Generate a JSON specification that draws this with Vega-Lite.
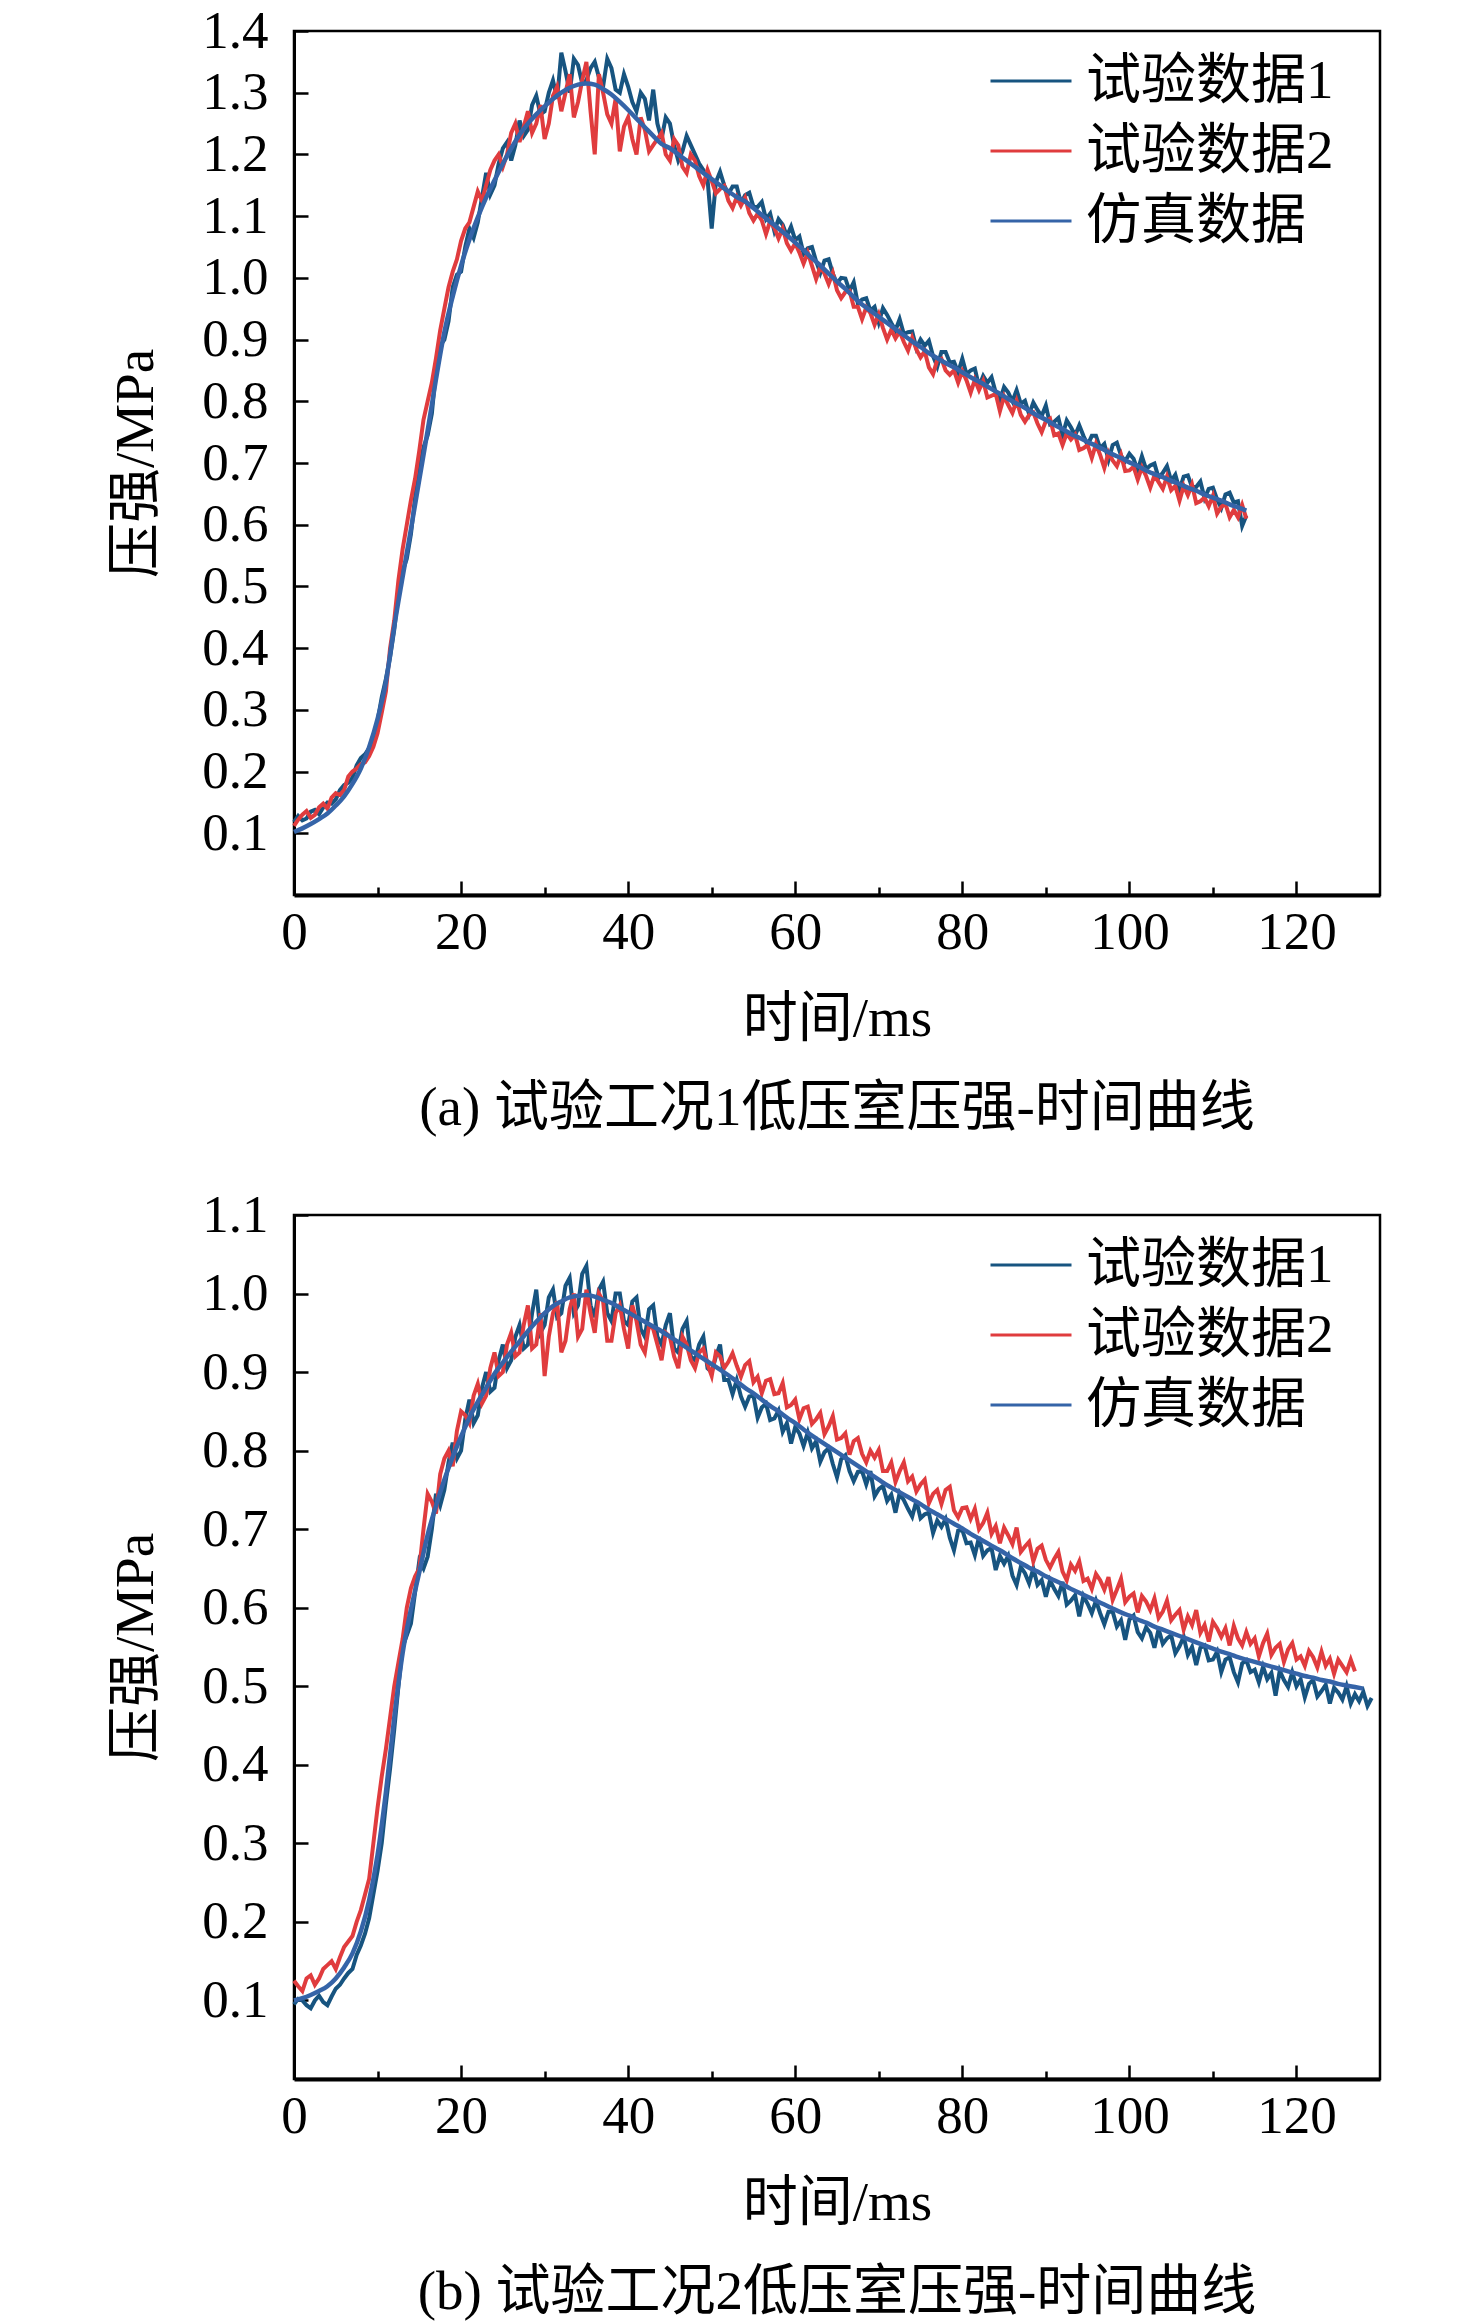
{
  "$schema": "https://vega.github.io/schema/vega-lite/v6.json",
  "background": "white",
  "padding": {"left": 107, "top": 3, "right": 10, "bottom": 5},
  "spacing": 49,
  "datasets": {
    "a": [
      {"t":0,"sim":0.102,"e1":0.118,"e2":0.112},{"t":1,"sim":0.108,"e1":0.121,"e2":0.130},{"t":2,"sim":0.115,"e1":0.135,"e2":0.125},{"t":3,"sim":0.123,"e1":0.131,"e2":0.142},{"t":4,"sim":0.132,"e1":0.150,"e2":0.140},
      {"t":5,"sim":0.145,"e1":0.155,"e2":0.165},{"t":6,"sim":0.160,"e1":0.178,"e2":0.170},{"t":7,"sim":0.180,"e1":0.190,"e2":0.200},{"t":8,"sim":0.205,"e1":0.222,"e2":0.212},{"t":9,"sim":0.240,"e1":0.238,"e2":0.225},
      {"t":10,"sim":0.285,"e1":0.282,"e2":0.262},{"t":11,"sim":0.345,"e1":0.350,"e2":0.330},{"t":12,"sim":0.435,"e1":0.430,"e2":0.445},{"t":13,"sim":0.515,"e1":0.525,"e2":0.560},{"t":14,"sim":0.593,"e1":0.585,"e2":0.640},
      {"t":15,"sim":0.673,"e1":0.690,"e2":0.720},{"t":16,"sim":0.753,"e1":0.745,"e2":0.800},{"t":17,"sim":0.836,"e1":0.850,"e2":0.870},{"t":18,"sim":0.912,"e1":0.900,"e2":0.950},{"t":19,"sim":0.970,"e1":0.985,"e2":1.010},
      {"t":20,"sim":1.020,"e1":1.010,"e2":1.060},{"t":21,"sim":1.062,"e1":1.080,"e2":1.090},{"t":22,"sim":1.098,"e1":1.090,"e2":1.140},{"t":23,"sim":1.130,"e1":1.170,"e2":1.150},{"t":24,"sim":1.158,"e1":1.150,"e2":1.190},
      {"t":25,"sim":1.185,"e1":1.210,"e2":1.180},{"t":26,"sim":1.210,"e1":1.190,"e2":1.235},{"t":27,"sim":1.232,"e1":1.255,"e2":1.220},{"t":28,"sim":1.250,"e1":1.240,"e2":1.270},{"t":29,"sim":1.265,"e1":1.295,"e2":1.250},
      {"t":30,"sim":1.278,"e1":1.270,"e2":1.225},{"t":31,"sim":1.290,"e1":1.320,"e2":1.295},{"t":32,"sim":1.300,"e1":1.365,"e2":1.270},{"t":33,"sim":1.308,"e1":1.300,"e2":1.330},{"t":34,"sim":1.313,"e1":1.345,"e2":1.285},
      {"t":35,"sim":1.315,"e1":1.320,"e2":1.350},{"t":36,"sim":1.313,"e1":1.350,"e2":1.200},{"t":37,"sim":1.306,"e1":1.310,"e2":1.300},{"t":38,"sim":1.297,"e1":1.340,"e2":1.250},{"t":39,"sim":1.285,"e1":1.300,"e2":1.205},
      {"t":40,"sim":1.272,"e1":1.310,"e2":1.260},{"t":41,"sim":1.258,"e1":1.270,"e2":1.200},{"t":42,"sim":1.244,"e1":1.290,"e2":1.240},{"t":43,"sim":1.230,"e1":1.305,"e2":1.215},{"t":44,"sim":1.217,"e1":1.225,"e2":1.235},
      {"t":45,"sim":1.210,"e1":1.250,"e2":1.190},{"t":46,"sim":1.200,"e1":1.190,"e2":1.215},{"t":47,"sim":1.190,"e1":1.230,"e2":1.170},{"t":48,"sim":1.180,"e1":1.200,"e2":1.190},{"t":49,"sim":1.170,"e1":1.175,"e2":1.150},
      {"t":50,"sim":1.160,"e1":1.080,"e2":1.157},{"t":51,"sim":1.150,"e1":1.172,"e2":1.144},{"t":52,"sim":1.140,"e1":1.136,"e2":1.125},{"t":53,"sim":1.131,"e1":1.148,"e2":1.131},{"t":54,"sim":1.124,"e1":1.134,"e2":1.130},
      {"t":55,"sim":1.113,"e1":1.115,"e2":1.093},{"t":56,"sim":1.102,"e1":1.123,"e2":1.093},{"t":57,"sim":1.091,"e1":1.104,"e2":1.092},{"t":58,"sim":1.080,"e1":1.095,"e2":1.064},{"t":59,"sim":1.069,"e1":1.068,"e2":1.056},
      {"t":60,"sim":1.057,"e1":1.061,"e2":1.056},{"t":61,"sim":1.045,"e1":1.039,"e2":1.023},{"t":62,"sim":1.032,"e1":1.050,"e2":1.020},{"t":63,"sim":1.020,"e1":1.008,"e2":1.018},{"t":64,"sim":1.007,"e1":1.030,"e2":0.990},
      {"t":65,"sim":0.994,"e1":0.991,"e2":0.980},{"t":66,"sim":0.982,"e1":0.999,"e2":0.977},{"t":67,"sim":0.969,"e1":0.993,"e2":0.953},{"t":68,"sim":0.957,"e1":0.965,"e2":0.933},{"t":69,"sim":0.947,"e1":0.947,"e2":0.943},
      {"t":70,"sim":0.937,"e1":0.928,"e2":0.941},{"t":71,"sim":0.927,"e1":0.940,"e2":0.900},{"t":72,"sim":0.917,"e1":0.915,"e2":0.902},{"t":73,"sim":0.907,"e1":0.909,"e2":0.896},{"t":74,"sim":0.897,"e1":0.913,"e2":0.903},
      {"t":75,"sim":0.888,"e1":0.900,"e2":0.871},{"t":76,"sim":0.878,"e1":0.898,"e2":0.855},{"t":77,"sim":0.870,"e1":0.856,"e2":0.867},{"t":78,"sim":0.862,"e1":0.880,"e2":0.850},{"t":79,"sim":0.855,"e1":0.864,"e2":0.850},
      {"t":80,"sim":0.847,"e1":0.869,"e2":0.849},{"t":81,"sim":0.839,"e1":0.850,"e2":0.814},{"t":82,"sim":0.832,"e1":0.824,"e2":0.818},{"t":83,"sim":0.824,"e1":0.830,"e2":0.806},{"t":84,"sim":0.816,"e1":0.814,"e2":0.812},
      {"t":85,"sim":0.808,"e1":0.823,"e2":0.808},{"t":86,"sim":0.800,"e1":0.800,"e2":0.781},{"t":87,"sim":0.793,"e1":0.796,"e2":0.778},{"t":88,"sim":0.785,"e1":0.779,"e2":0.778},{"t":89,"sim":0.777,"e1":0.786,"e2":0.764},
      {"t":90,"sim":0.770,"e1":0.793,"e2":0.768},{"t":91,"sim":0.762,"e1":0.767,"e2":0.745},{"t":92,"sim":0.755,"e1":0.745,"e2":0.729},{"t":93,"sim":0.747,"e1":0.758,"e2":0.738},{"t":94,"sim":0.741,"e1":0.761,"e2":0.721},
      {"t":95,"sim":0.734,"e1":0.729,"e2":0.729},{"t":96,"sim":0.728,"e1":0.744,"e2":0.731},{"t":97,"sim":0.721,"e1":0.731,"e2":0.692},{"t":98,"sim":0.714,"e1":0.729,"e2":0.704},{"t":99,"sim":0.708,"e1":0.712,"e2":0.713},
      {"t":100,"sim":0.701,"e1":0.715,"e2":0.688},{"t":101,"sim":0.695,"e1":0.688,"e2":0.673},{"t":102,"sim":0.688,"e1":0.690,"e2":0.679},{"t":103,"sim":0.682,"e1":0.699,"e2":0.680},{"t":104,"sim":0.677,"e1":0.684,"e2":0.658},
      {"t":105,"sim":0.671,"e1":0.671,"e2":0.656},{"t":106,"sim":0.666,"e1":0.657,"e2":0.639},{"t":107,"sim":0.660,"e1":0.680,"e2":0.648},{"t":108,"sim":0.655,"e1":0.661,"e2":0.635},{"t":109,"sim":0.649,"e1":0.643,"e2":0.644},
      {"t":110,"sim":0.644,"e1":0.660,"e2":0.647},{"t":111,"sim":0.639,"e1":0.627,"e2":0.629},{"t":112,"sim":0.633,"e1":0.652,"e2":0.612},{"t":113,"sim":0.628,"e1":0.638,"e2":0.612},{"t":114,"sim":0.623,"e1":0.615,"e2":0.610},
      {"t":0.5,"e1":0.128,"e2":0.122},{"t":1.5,"e1":0.124,"e2":0.136},{"t":2.5,"e1":0.138,"e2":0.130},{"t":3.5,"e1":0.142,"e2":0.148},{"t":4.5,"e1":0.148,"e2":0.158},
      {"t":5.5,"e1":0.170,"e2":0.162},{"t":6.5,"e1":0.182,"e2":0.192},{"t":7.5,"e1":0.210,"e2":0.205},{"t":8.5,"e1":0.228,"e2":0.215},{"t":9.5,"e1":0.258,"e2":0.240},
      {"t":10.5,"e1":0.320,"e2":0.295},{"t":11.5,"e1":0.385,"e2":0.400},{"t":12.5,"e1":0.490,"e2":0.510},{"t":13.5,"e1":0.545,"e2":0.600},{"t":14.5,"e1":0.645,"e2":0.675},
      {"t":15.5,"e1":0.725,"e2":0.770},{"t":16.5,"e1":0.780,"e2":0.830},{"t":17.5,"e1":0.890,"e2":0.915},{"t":18.5,"e1":0.930,"e2":0.985},{"t":19.5,"e1":1.005,"e2":1.030},
      {"t":20.5,"e1":1.050,"e2":1.080},{"t":21.5,"e1":1.065,"e2":1.115},{"t":22.5,"e1":1.130,"e2":1.125},{"t":23.5,"e1":1.135,"e2":1.175},{"t":24.5,"e1":1.185,"e2":1.200},
      {"t":25.5,"e1":1.220,"e2":1.200},{"t":26.5,"e1":1.215,"e2":1.250},{"t":27.5,"e1":1.230,"e2":1.245},{"t":28.5,"e1":1.280,"e2":1.235},{"t":29.5,"e1":1.265,"e2":1.280},
      {"t":30.5,"e1":1.300,"e2":1.250},{"t":31.5,"e1":1.290,"e2":1.310},{"t":32.5,"e1":1.335,"e2":1.300},{"t":33.5,"e1":1.355,"e2":1.260},{"t":34.5,"e1":1.315,"e2":1.320},
      {"t":35.5,"e1":1.340,"e2":1.270},{"t":36.5,"e1":1.325,"e2":1.330},{"t":37.5,"e1":1.355,"e2":1.265},{"t":38.5,"e1":1.305,"e2":1.290},{"t":39.5,"e1":1.330,"e2":1.245},
      {"t":40.5,"e1":1.285,"e2":1.225},{"t":41.5,"e1":1.300,"e2":1.260},{"t":42.5,"e1":1.255,"e2":1.205},{"t":43.5,"e1":1.250,"e2":1.225},{"t":44.5,"e1":1.260,"e2":1.200},
      {"t":45.5,"e1":1.215,"e2":1.225},{"t":46.5,"e1":1.205,"e2":1.180},{"t":47.5,"e1":1.215,"e2":1.200},{"t":48.5,"e1":1.185,"e2":1.165},{"t":49.5,"e1":1.160,"e2":1.175},
      {"t":50.5,"e1":1.155,"e2":1.137},{"t":51.5,"e1":1.150,"e2":1.149},{"t":52.5,"e1":1.148,"e2":1.113},{"t":53.5,"e1":1.121,"e2":1.117},{"t":54.5,"e1":1.138,"e2":1.105},
      {"t":55.5,"e1":1.115,"e2":1.104},{"t":56.5,"e1":1.095,"e2":1.071},{"t":57.5,"e1":1.076,"e2":1.081},{"t":58.5,"e1":1.086,"e2":1.080},{"t":59.5,"e1":1.083,"e2":1.044},
      {"t":60.5,"e1":1.067,"e2":1.041},{"t":61.5,"e1":1.048,"e2":1.041},{"t":62.5,"e1":1.027,"e2":0.998},{"t":63.5,"e1":1.028,"e2":1.007},{"t":64.5,"e1":1.007,"e2":1.008},
      {"t":65.5,"e1":1.000,"e2":0.967},{"t":66.5,"e1":0.979,"e2":0.979},{"t":67.5,"e1":0.958,"e2":0.953},{"t":68.5,"e1":0.967,"e2":0.952},{"t":69.5,"e1":0.953,"e2":0.924},
      {"t":70.5,"e1":0.951,"e2":0.919},{"t":71.5,"e1":0.927,"e2":0.916},{"t":72.5,"e1":0.933,"e2":0.913},{"t":73.5,"e1":0.912,"e2":0.882},{"t":74.5,"e1":0.886,"e2":0.884},
      {"t":75.5,"e1":0.890,"e2":0.881},{"t":76.5,"e1":0.873,"e2":0.844},{"t":77.5,"e1":0.880,"e2":0.869},{"t":78.5,"e1":0.863,"e2":0.843},{"t":79.5,"e1":0.847,"e2":0.830},
      {"t":80.5,"e1":0.844,"e2":0.834},{"t":81.5,"e1":0.853,"e2":0.835},{"t":82.5,"e1":0.841,"e2":0.833},{"t":83.5,"e1":0.839,"e2":0.809},{"t":84.5,"e1":0.801,"e2":0.784},
      {"t":85.5,"e1":0.814,"e2":0.794},{"t":86.5,"e1":0.818,"e2":0.801},{"t":87.5,"e1":0.801,"e2":0.767},{"t":88.5,"e1":0.798,"e2":0.782},{"t":89.5,"e1":0.776,"e2":0.750},
      {"t":90.5,"e1":0.763,"e2":0.772},{"t":91.5,"e1":0.773,"e2":0.748},{"t":92.5,"e1":0.769,"e2":0.748},{"t":93.5,"e1":0.745,"e2":0.746},{"t":94.5,"e1":0.744,"e2":0.724},
      {"t":95.5,"e1":0.744,"e2":0.708},{"t":96.5,"e1":0.724,"e2":0.713},{"t":97.5,"e1":0.705,"e2":0.717},{"t":98.5,"e1":0.733,"e2":0.695},{"t":99.5,"e1":0.703,"e2":0.687},
      {"t":100.5,"e1":0.707,"e2":0.694},{"t":101.5,"e1":0.711,"e2":0.693},{"t":102.5,"e1":0.696,"e2":0.660},{"t":103.5,"e1":0.676,"e2":0.669},{"t":104.5,"e1":0.695,"e2":0.678},
      {"t":105.5,"e1":0.681,"e2":0.663},{"t":106.5,"e1":0.678,"e2":0.663},{"t":107.5,"e1":0.661,"e2":0.665},{"t":108.5,"e1":0.670,"e2":0.638},{"t":109.5,"e1":0.658,"e2":0.630},
      {"t":110.5,"e1":0.641,"e2":0.618},{"t":111.5,"e1":0.649,"e2":0.634},{"t":112.5,"e1":0.636,"e2":0.624},{"t":113.5,"e1":0.598,"e2":0.632}
    ],
    "b": [
      {"t":0,"sim":0.100,"e1":0.095,"e2":0.125},{"t":1,"sim":0.103,"e1":0.100,"e2":0.112},{"t":2,"sim":0.107,"e1":0.090,"e2":0.132},{"t":3,"sim":0.112,"e1":0.106,"e2":0.128},{"t":4,"sim":0.118,"e1":0.094,"e2":0.145},
      {"t":5,"sim":0.128,"e1":0.115,"e2":0.140},{"t":6,"sim":0.142,"e1":0.128,"e2":0.168},{"t":7,"sim":0.160,"e1":0.140,"e2":0.182},{"t":8,"sim":0.188,"e1":0.170,"e2":0.215},{"t":9,"sim":0.228,"e1":0.205,"e2":0.255},
      {"t":10,"sim":0.285,"e1":0.265,"e2":0.345},{"t":11,"sim":0.365,"e1":0.350,"e2":0.420},{"t":12,"sim":0.460,"e1":0.445,"e2":0.500},{"t":13,"sim":0.542,"e1":0.550,"e2":0.560},{"t":14,"sim":0.598,"e1":0.580,"e2":0.625},
      {"t":15,"sim":0.645,"e1":0.660,"e2":0.650},{"t":16,"sim":0.693,"e1":0.665,"e2":0.745},{"t":17,"sim":0.730,"e1":0.745,"e2":0.720},{"t":18,"sim":0.763,"e1":0.750,"e2":0.790},{"t":19,"sim":0.792,"e1":0.810,"e2":0.780},
      {"t":20,"sim":0.818,"e1":0.800,"e2":0.850},{"t":21,"sim":0.842,"e1":0.865,"e2":0.835},{"t":22,"sim":0.862,"e1":0.845,"e2":0.885},{"t":23,"sim":0.880,"e1":0.900,"e2":0.870},{"t":24,"sim":0.898,"e1":0.880,"e2":0.925},
      {"t":25,"sim":0.912,"e1":0.935,"e2":0.900},{"t":26,"sim":0.926,"e1":0.915,"e2":0.950},{"t":27,"sim":0.939,"e1":0.960,"e2":0.925},{"t":28,"sim":0.952,"e1":0.935,"e2":0.985},{"t":29,"sim":0.964,"e1":1.005,"e2":0.935},
      {"t":30,"sim":0.975,"e1":0.960,"e2":0.895},{"t":31,"sim":0.984,"e1":1.005,"e2":0.975},{"t":32,"sim":0.990,"e1":0.975,"e2":0.925},{"t":33,"sim":0.995,"e1":1.020,"e2":0.980},{"t":34,"sim":0.997,"e1":0.985,"e2":0.945},
      {"t":35,"sim":0.998,"e1":1.035,"e2":1.005},{"t":36,"sim":0.996,"e1":0.970,"e2":0.950},{"t":37,"sim":0.992,"e1":1.015,"e2":0.990},{"t":38,"sim":0.988,"e1":0.965,"e2":0.940},{"t":39,"sim":0.982,"e1":1.000,"e2":0.985},
      {"t":40,"sim":0.976,"e1":0.960,"e2":0.930},{"t":41,"sim":0.970,"e1":0.995,"e2":0.965},{"t":42,"sim":0.964,"e1":0.945,"e2":0.925},{"t":43,"sim":0.958,"e1":0.985,"e2":0.955},{"t":44,"sim":0.952,"e1":0.935,"e2":0.915},
      {"t":45,"sim":0.945,"e1":0.975,"e2":0.945},{"t":46,"sim":0.938,"e1":0.925,"e2":0.905},{"t":47,"sim":0.931,"e1":0.965,"e2":0.935},{"t":48,"sim":0.924,"e1":0.915,"e2":0.905},{"t":49,"sim":0.917,"e1":0.945,"e2":0.930},
      {"t":50,"sim":0.910,"e1":0.900,"e2":0.895},{"t":51,"sim":0.903,"e1":0.935,"e2":0.920},{"t":52,"sim":0.896,"e1":0.890,"e2":0.913},{"t":53,"sim":0.888,"e1":0.890,"e2":0.908},{"t":54,"sim":0.880,"e1":0.856,"e2":0.909},
      {"t":55,"sim":0.873,"e1":0.870,"e2":0.887},{"t":56,"sim":0.865,"e1":0.855,"e2":0.873},{"t":57,"sim":0.857,"e1":0.839,"e2":0.891},{"t":58,"sim":0.850,"e1":0.851,"e2":0.873},{"t":59,"sim":0.842,"e1":0.835,"e2":0.855},
      {"t":60,"sim":0.835,"e1":0.830,"e2":0.865},{"t":61,"sim":0.827,"e1":0.806,"e2":0.854},{"t":62,"sim":0.819,"e1":0.803,"e2":0.834},{"t":63,"sim":0.812,"e1":0.786,"e2":0.848},{"t":64,"sim":0.805,"e1":0.803,"e2":0.831},
      {"t":65,"sim":0.798,"e1":0.766,"e2":0.814},{"t":66,"sim":0.791,"e1":0.794,"e2":0.822},{"t":67,"sim":0.784,"e1":0.761,"e2":0.812},{"t":68,"sim":0.777,"e1":0.774,"e2":0.796},{"t":69,"sim":0.770,"e1":0.774,"e2":0.800},
      {"t":70,"sim":0.763,"e1":0.751,"e2":0.801},{"t":71,"sim":0.756,"e1":0.736,"e2":0.774},{"t":72,"sim":0.750,"e1":0.721,"e2":0.760},{"t":73,"sim":0.744,"e1":0.737,"e2":0.785},{"t":74,"sim":0.738,"e1":0.716,"e2":0.767},
      {"t":75,"sim":0.732,"e1":0.714,"e2":0.757},{"t":76,"sim":0.725,"e1":0.721,"e2":0.733},{"t":77,"sim":0.719,"e1":0.711,"e2":0.750},{"t":78,"sim":0.713,"e1":0.713,"e2":0.750},{"t":79,"sim":0.707,"e1":0.673,"e2":0.724},
      {"t":80,"sim":0.701,"e1":0.699,"e2":0.727},{"t":81,"sim":0.694,"e1":0.683,"e2":0.713},{"t":82,"sim":0.688,"e1":0.690,"e2":0.700},{"t":83,"sim":0.682,"e1":0.673,"e2":0.721},{"t":84,"sim":0.676,"e1":0.648,"e2":0.704},
      {"t":85,"sim":0.670,"e1":0.656,"e2":0.702},{"t":86,"sim":0.663,"e1":0.641,"e2":0.681},{"t":87,"sim":0.657,"e1":0.652,"e2":0.671},{"t":88,"sim":0.651,"e1":0.631,"e2":0.684},{"t":89,"sim":0.646,"e1":0.629,"e2":0.675},
      {"t":90,"sim":0.640,"e1":0.614,"e2":0.661},{"t":91,"sim":0.635,"e1":0.624,"e2":0.662},{"t":92,"sim":0.630,"e1":0.633,"e2":0.646},{"t":93,"sim":0.624,"e1":0.609,"e2":0.655},{"t":94,"sim":0.619,"e1":0.589,"e2":0.659},
      {"t":95,"sim":0.614,"e1":0.605,"e2":0.637},{"t":96,"sim":0.609,"e1":0.609,"e2":0.643},{"t":97,"sim":0.604,"e1":0.579,"e2":0.623},{"t":98,"sim":0.599,"e1":0.595,"e2":0.610},{"t":99,"sim":0.594,"e1":0.584,"e2":0.637},
      {"t":100,"sim":0.590,"e1":0.585,"e2":0.614},{"t":101,"sim":0.585,"e1":0.569,"e2":0.594},{"t":102,"sim":0.581,"e1":0.575,"e2":0.608},{"t":103,"sim":0.576,"e1":0.549,"e2":0.612},{"t":104,"sim":0.572,"e1":0.554,"e2":0.595},
      {"t":105,"sim":0.568,"e1":0.565,"e2":0.584},{"t":106,"sim":0.564,"e1":0.551,"e2":0.597},{"t":107,"sim":0.560,"e1":0.540,"e2":0.589},{"t":108,"sim":0.556,"e1":0.527,"e2":0.597},{"t":109,"sim":0.552,"e1":0.552,"e2":0.578},
      {"t":110,"sim":0.548,"e1":0.534,"e2":0.582},{"t":111,"sim":0.544,"e1":0.518,"e2":0.563},{"t":112,"sim":0.541,"e1":0.537,"e2":0.552},{"t":113,"sim":0.537,"e1":0.505,"e2":0.561},{"t":114,"sim":0.534,"e1":0.533,"e2":0.569},
      {"t":115,"sim":0.531,"e1":0.521,"e2":0.561},{"t":116,"sim":0.528,"e1":0.525,"e2":0.555},{"t":117,"sim":0.525,"e1":0.517,"e2":0.540},{"t":118,"sim":0.522,"e1":0.520,"e2":0.554},{"t":119,"sim":0.519,"e1":0.499,"e2":0.547},
      {"t":120,"sim":0.516,"e1":0.500,"e2":0.534},{"t":121,"sim":0.513,"e1":0.486,"e2":0.526},{"t":122,"sim":0.511,"e1":0.508,"e2":0.537},{"t":123,"sim":0.508,"e1":0.494,"e2":0.544},{"t":124,"sim":0.506,"e1":0.478,"e2":0.535},
      {"t":125,"sim":0.503,"e1":0.492,"e2":0.534},{"t":126,"sim":0.501,"e1":0.500,"e2":0.518},{"t":127,"sim":0.499,"e1":0.490,"e2":0.519},{"t":128,"sim":0.497,"e1":0.493},{"t":129,"e1":0.485},
      {"t":0.5,"e1":0.102,"e2":0.118},{"t":1.5,"e1":0.094,"e2":0.128},{"t":2.5,"e1":0.100,"e2":0.120},{"t":3.5,"e1":0.098,"e2":0.140},{"t":4.5,"e1":0.105,"e2":0.150},
      {"t":5.5,"e1":0.120,"e2":0.155},{"t":6.5,"e1":0.135,"e2":0.175},{"t":7.5,"e1":0.158,"e2":0.200},{"t":8.5,"e1":0.185,"e2":0.235},{"t":9.5,"e1":0.235,"e2":0.300},
      {"t":10.5,"e1":0.300,"e2":0.385},{"t":11.5,"e1":0.395,"e2":0.460},{"t":12.5,"e1":0.500,"e2":0.530},{"t":13.5,"e1":0.565,"e2":0.600},{"t":14.5,"e1":0.620,"e2":0.640},
      {"t":15.5,"e1":0.650,"e2":0.700},{"t":16.5,"e1":0.700,"e2":0.735},{"t":17.5,"e1":0.730,"e2":0.770},{"t":18.5,"e1":0.785,"e2":0.800},{"t":19.5,"e1":0.790,"e2":0.825},
      {"t":20.5,"e1":0.840,"e2":0.845},{"t":21.5,"e1":0.835,"e2":0.870},{"t":22.5,"e1":0.880,"e2":0.860},{"t":23.5,"e1":0.875,"e2":0.905},{"t":24.5,"e1":0.915,"e2":0.895},
      {"t":25.5,"e1":0.905,"e2":0.935},{"t":26.5,"e1":0.945,"e2":0.920},{"t":27.5,"e1":0.930,"e2":0.960},{"t":28.5,"e1":0.975,"e2":0.930},{"t":29.5,"e1":0.950,"e2":0.975},
      {"t":30.5,"e1":0.995,"e2":0.945},{"t":31.5,"e1":0.970,"e2":0.990},{"t":32.5,"e1":1.010,"e2":0.940},{"t":33.5,"e1":0.975,"e2":1.000},{"t":34.5,"e1":1.025,"e2":0.955},
      {"t":35.5,"e1":0.985,"e2":0.975},{"t":36.5,"e1":1.005,"e2":1.000},{"t":37.5,"e1":0.975,"e2":0.940},{"t":38.5,"e1":1.000,"e2":0.975},{"t":39.5,"e1":0.965,"e2":0.955},
      {"t":40.5,"e1":0.990,"e2":0.985},{"t":41.5,"e1":0.955,"e2":0.935},{"t":42.5,"e1":0.980,"e2":0.960},{"t":43.5,"e1":0.945,"e2":0.935},{"t":44.5,"e1":0.960,"e2":0.950},
      {"t":45.5,"e1":0.930,"e2":0.920},{"t":46.5,"e1":0.955,"e2":0.945},{"t":47.5,"e1":0.920,"e2":0.915},{"t":48.5,"e1":0.935,"e2":0.925},{"t":49.5,"e1":0.905,"e2":0.910},
      {"t":50.5,"e1":0.920,"e2":0.925},{"t":51.5,"e1":0.890,"e2":0.905},{"t":52.5,"e1":0.872,"e2":0.924},{"t":53.5,"e1":0.869,"e2":0.894},{"t":54.5,"e1":0.869,"e2":0.914},
      {"t":55.5,"e1":0.842,"e2":0.894},{"t":56.5,"e1":0.860,"e2":0.889},{"t":57.5,"e1":0.841,"e2":0.872},{"t":58.5,"e1":0.824,"e2":0.886},{"t":59.5,"e1":0.809,"e2":0.858},
      {"t":60.5,"e1":0.822,"e2":0.840},{"t":61.5,"e1":0.823,"e2":0.856},{"t":62.5,"e1":0.812,"e2":0.840},{"t":63.5,"e1":0.798,"e2":0.821},{"t":64.5,"e1":0.783,"e2":0.844},
      {"t":65.5,"e1":0.789,"e2":0.816},{"t":66.5,"e1":0.774,"e2":0.795},{"t":67.5,"e1":0.773,"e2":0.816},{"t":68.5,"e1":0.757,"e2":0.785},{"t":69.5,"e1":0.742,"e2":0.791},
      {"t":70.5,"e1":0.755,"e2":0.774},{"t":71.5,"e1":0.744,"e2":0.785},{"t":72.5,"e1":0.746,"e2":0.774},{"t":73.5,"e1":0.726,"e2":0.761},{"t":74.5,"e1":0.736,"e2":0.748},
      {"t":75.5,"e1":0.719,"e2":0.763},{"t":76.5,"e1":0.695,"e2":0.745},{"t":77.5,"e1":0.703,"e2":0.732},{"t":78.5,"e1":0.689,"e2":0.754},{"t":79.5,"e1":0.698,"e2":0.715},
      {"t":80.5,"e1":0.682,"e2":0.728},{"t":81.5,"e1":0.667,"e2":0.726},{"t":82.5,"e1":0.666,"e2":0.708},{"t":83.5,"e1":0.676,"e2":0.694},{"t":84.5,"e1":0.666,"e2":0.682},
      {"t":85.5,"e1":0.666,"e2":0.692},{"t":86.5,"e1":0.629,"e2":0.702},{"t":87.5,"e1":0.644,"e2":0.678},{"t":88.5,"e1":0.650,"e2":0.659},{"t":89.5,"e1":0.635,"e2":0.679},
      {"t":90.5,"e1":0.635,"e2":0.651},{"t":91.5,"e1":0.615,"e2":0.671},{"t":92.5,"e1":0.604,"e2":0.635},{"t":93.5,"e1":0.616,"e2":0.647},{"t":94.5,"e1":0.615,"e2":0.634},
      {"t":95.5,"e1":0.593,"e2":0.624},{"t":96.5,"e1":0.593,"e2":0.635},{"t":97.5,"e1":0.595,"e2":0.639},{"t":98.5,"e1":0.576,"e2":0.623},{"t":99.5,"e1":0.559,"e2":0.607},
      {"t":100.5,"e1":0.590,"e2":0.618},{"t":101.5,"e1":0.561,"e2":0.615},{"t":102.5,"e1":0.568,"e2":0.597},{"t":103.5,"e1":0.573,"e2":0.587},{"t":104.5,"e1":0.561,"e2":0.609},
      {"t":105.5,"e1":0.542,"e2":0.591},{"t":106.5,"e1":0.563,"e2":0.572},{"t":107.5,"e1":0.550,"e2":0.578},{"t":108.5,"e1":0.549,"e2":0.568},{"t":109.5,"e1":0.533,"e2":0.557},
      {"t":110.5,"e1":0.544,"e2":0.574},{"t":111.5,"e1":0.534,"e2":0.574},{"t":112.5,"e1":0.518,"e2":0.577},{"t":113.5,"e1":0.529,"e2":0.552},{"t":114.5,"e1":0.518,"e2":0.554},
      {"t":115.5,"e1":0.505,"e2":0.538},{"t":116.5,"e1":0.509,"e2":0.567},{"t":117.5,"e1":0.488,"e2":0.549},{"t":118.5,"e1":0.508,"e2":0.531},{"t":119.5,"e1":0.518,"e2":0.555},
      {"t":120.5,"e1":0.509,"e2":0.538},{"t":121.5,"e1":0.503,"e2":0.545},{"t":122.5,"e1":0.487,"e2":0.524},{"t":123.5,"e1":0.502,"e2":0.526},{"t":124.5,"e1":0.498,"e2":0.516},
      {"t":125.5,"e1":0.483,"e2":0.526},{"t":126.5,"e1":0.478,"e2":0.534},{"t":127.5,"e1":0.481},{"t":128.5,"e1":0.475}
    ]
  },
  "vconcat": [
    {
      "width": 1086,
      "height": 864,
      "data": {"name": "a"},
      "title": {"text": "(a) 试验工况1低压室压强-时间曲线", "orient": "bottom", "anchor": "middle", "offset": 36},
      "encoding": {
        "x": {
          "field": "t", "type": "quantitative",
          "scale": {"domain": [0, 130], "nice": false},
          "axis": {
            "title": "时间/ms",
            "values": [0, 10, 20, 30, 40, 50, 60, 70, 80, 90, 100, 110, 120],
            "labelExpr": "datum.value % 20 === 0 ? datum.label : ''",
            "tickSize": {"condition": {"test": "datum.value % 20 === 0", "value": -14}, "value": -8}
          }
        }
      },
      "layer": [
        {
          "transform": [{"filter": "isValid(datum.e1)"}],
          "mark": {"type": "line", "strokeWidth": 4},
          "encoding": {
            "y": {
              "field": "e1", "type": "quantitative",
              "scale": {"domain": [0, 1.4], "nice": false},
              "axis": {"title": "压强/MPa", "values": [0.1, 0.2, 0.3, 0.4, 0.5, 0.6, 0.7, 0.8, 0.9, 1.0, 1.1, 1.2, 1.3, 1.4], "format": ".1f"}
            },
            "color": {
              "datum": "试验数据1",
              "scale": {"domain": ["试验数据1", "试验数据2", "仿真数据"], "range": ["#175480", "#e03c3e", "#3564a8"]},
              "legend": {"title": null}
            }
          }
        },
        {
          "transform": [{"filter": "isValid(datum.e2)"}],
          "mark": {"type": "line", "strokeWidth": 4},
          "encoding": {
            "y": {"field": "e2", "type": "quantitative"},
            "color": {"datum": "试验数据2"}
          }
        },
        {
          "transform": [{"filter": "isValid(datum.sim)"}],
          "mark": {"type": "line", "strokeWidth": 4.5, "interpolate": "monotone"},
          "encoding": {
            "y": {"field": "sim", "type": "quantitative"},
            "color": {"datum": "仿真数据"}
          }
        }
      ]
    },
    {
      "width": 1086,
      "height": 864,
      "data": {"name": "b"},
      "title": {"text": "(b) 试验工况2低压室压强-时间曲线", "orient": "bottom", "anchor": "middle", "offset": 36},
      "encoding": {
        "x": {
          "field": "t", "type": "quantitative",
          "scale": {"domain": [0, 130], "nice": false},
          "axis": {
            "title": "时间/ms",
            "values": [0, 10, 20, 30, 40, 50, 60, 70, 80, 90, 100, 110, 120],
            "labelExpr": "datum.value % 20 === 0 ? datum.label : ''",
            "tickSize": {"condition": {"test": "datum.value % 20 === 0", "value": -14}, "value": -8}
          }
        }
      },
      "layer": [
        {
          "transform": [{"filter": "isValid(datum.e1)"}],
          "mark": {"type": "line", "strokeWidth": 4},
          "encoding": {
            "y": {
              "field": "e1", "type": "quantitative",
              "scale": {"domain": [0, 1.1], "nice": false},
              "axis": {"title": "压强/MPa", "values": [0.1, 0.2, 0.3, 0.4, 0.5, 0.6, 0.7, 0.8, 0.9, 1.0, 1.1], "format": ".1f"}
            },
            "color": {
              "datum": "试验数据1",
              "scale": {"domain": ["试验数据1", "试验数据2", "仿真数据"], "range": ["#175480", "#e03c3e", "#3564a8"]},
              "legend": {"title": null}
            }
          }
        },
        {
          "transform": [{"filter": "isValid(datum.e2)"}],
          "mark": {"type": "line", "strokeWidth": 4},
          "encoding": {
            "y": {"field": "e2", "type": "quantitative"},
            "color": {"datum": "试验数据2"}
          }
        },
        {
          "transform": [{"filter": "isValid(datum.sim)"}],
          "mark": {"type": "line", "strokeWidth": 4.5, "interpolate": "monotone"},
          "encoding": {
            "y": {"field": "sim", "type": "quantitative"},
            "color": {"datum": "仿真数据"}
          }
        }
      ]
    }
  ],
  "resolve": {"legend": {"color": "independent"}, "scale": {"color": "independent"}},
  "config": {
    "font": "Liberation Serif, Noto Sans CJK SC",
    "view": {"stroke": "black", "strokeWidth": 2.5},
    "axis": {
      "grid": false,
      "labelFont": "Liberation Serif, Noto Sans CJK SC",
      "labelFontSize": 53,
      "labelColor": "black",
      "labelFlush": false,
      "labelOverlap": false,
      "titleFont": "Liberation Serif, Noto Sans CJK SC",
      "titleFontSize": 55,
      "titleFontWeight": "normal",
      "titleColor": "black",
      "domainColor": "black",
      "tickColor": "black",
      "tickWidth": 2.5
    },
    "axisX": {"domainWidth": 4, "labelPadding": 25, "titlePadding": 27},
    "axisY": {"domainWidth": 3, "tickSize": -14, "labelPadding": 40, "titlePadding": 37},
    "legend": {
      "orient": "none",
      "legendX": 695,
      "legendY": 8,
      "padding": 0,
      "symbolType": "stroke",
      "symbolSize": 6561,
      "symbolStrokeWidth": 3,
      "labelFont": "Liberation Serif, Noto Sans CJK SC",
      "labelFontSize": 55,
      "labelColor": "black",
      "labelOffset": 13,
      "labelLimit": 0,
      "rowPadding": -13.5
    },
    "title": {
      "font": "Liberation Serif, Noto Sans CJK SC",
      "fontSize": 55,
      "fontWeight": "normal",
      "color": "black"
    }
  }
}
